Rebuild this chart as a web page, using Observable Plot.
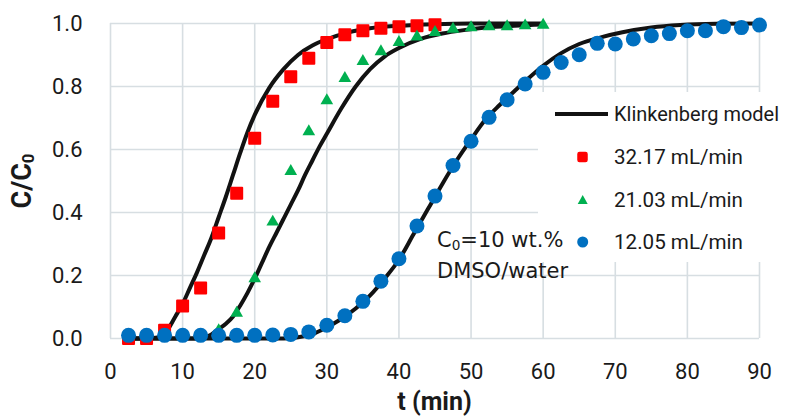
<!DOCTYPE html>
<html><head><meta charset="utf-8">
<script src="https://cdn.jsdelivr.net/npm/d3@7"></script>
<script src="https://cdn.jsdelivr.net/npm/@observablehq/plot@0.6"></script>
<style>
body{margin:0;background:#fff;}
#wrap{position:relative;width:785px;height:416px;overflow:hidden;}
.narrow{font-family:Roboto,'DejaVu Sans Condensed',sans-serif;}
#xtitle{position:absolute;left:0;width:785px;top:387px;text-align:center;font-weight:bold;font-size:25px;line-height:30px;color:#1a1a1a;padding-left:110px;box-sizing:border-box;padding-right:26px;}
#ytitle{position:absolute;left:22px;top:181px;transform:translate(-50%,-50%) rotate(-90deg);font-weight:bold;font-size:27px;color:#1a1a1a;white-space:nowrap;}
#ytitle sub{font-size:0.62em;vertical-align:-0.15em;}
#legend{position:absolute;left:538px;top:92px;width:247px;height:170px;background:#fff;}
#note{position:absolute;left:437px;top:227px;font-family:'DejaVu Sans',Verdana,sans-serif;font-size:21px;line-height:26.7px;color:#1a1a1a;white-space:nowrap;}
#note sub{font-size:0.65em;vertical-align:-0.2em;}
</style></head><body>
<div id="wrap"></div>
<script>
// ---- data ----
const xTicks = [0,10,20,30,40,50,60,70,80,90];
const yTicks = [0,0.2,0.4,0.6,0.8,1.0];

const seriesNames = ["32.17 mL/min","21.03 mL/min","12.05 mL/min"];
const seriesColors = ["#ff0000","#00b050","#0070c0"];

const redT = [2.5,5,7.5,10,12.5,15,17.5,20,22.5,25,27.5,30,32.5,35,37.5,40,42.5,45];
const redC = [0.0,0.0,0.026,0.103,0.16,0.335,0.461,0.636,0.753,0.831,0.89,0.94,0.964,0.977,0.985,0.99,0.993,0.996];

const greenT = [15,17.5,20,22.5,25,27.5,30,32.5,35,37.5,40,42.5,45,47.5,50,52.5,55,57.5,60];
const greenC = [0.025,0.081,0.19,0.37,0.531,0.657,0.755,0.826,0.88,0.911,0.94,0.958,0.972,0.982,0.987,0.99,0.99,0.993,0.995];

const blueT = [2.5,5,7.5,10,12.5,15,17.5,20,22.5,25,27.5,30,32.5,35,37.5,40,42.5,45,47.5,50,52.5,55,57.5,60,62.5,65,67.5,70,72.5,75,77.5,80,82.5,85,87.5,90];
const blueC = [0.01,0.01,0.01,0.01,0.01,0.01,0.01,0.01,0.011,0.013,0.021,0.042,0.072,0.118,0.182,0.253,0.357,0.452,0.549,0.626,0.702,0.758,0.808,0.845,0.876,0.901,0.937,0.935,0.951,0.961,0.968,0.977,0.977,0.99,0.987,0.995];

// Klinkenberg model curves
const model1T = [2,5,6.5,7.5,8,9,10,11,12,13,14,15,16,17,18,19,20,22,24,26,28,30,33,36,40,45,50,60];
const model1C = [0,0,0.003,0.015,0.03,0.07,0.11,0.16,0.21,0.265,0.32,0.385,0.45,0.52,0.59,0.655,0.71,0.795,0.855,0.9,0.93,0.95,0.972,0.985,0.993,0.998,1,1];
const model2T = [2,12,13,14,15,16,17,18,19,20,21,22,23,24,25,26,27,28,29,30,32,34,36,38,40,43,46,49,52,56,60];
const model2C = [0,0,0.003,0.013,0.03,0.047,0.07,0.105,0.145,0.19,0.24,0.29,0.335,0.38,0.425,0.47,0.52,0.565,0.61,0.65,0.73,0.8,0.855,0.895,0.922,0.951,0.968,0.979,0.987,0.993,0.997];
const model3T = [2,24,26,28,30,32,34,36,38,40,42,44,46,48,50,52,54,56,58,60,62.5,65,68,71,75,79,84,90];
const model3C = [0,0,0.004,0.014,0.036,0.062,0.095,0.137,0.19,0.25,0.33,0.41,0.49,0.565,0.632,0.695,0.742,0.785,0.827,0.866,0.906,0.935,0.956,0.972,0.987,0.995,0.999,1];

const zip = (T, C) => T.map((t, i) => ({t, c: C[i]}));
const red = zip(redT, redC), green = zip(greenT, greenC), blue = zip(blueT, blueC);
const m1 = zip(model1T, model1C), m2 = zip(model2T, model2C), m3 = zip(model3T, model3C);

const narrow = "Roboto,'DejaVu Sans Condensed',sans-serif";
const gridStyle = {stroke: "#d7dee2", strokeOpacity: 1, strokeWidth: 1.6};
const lineStyle = {x: "t", y: "c", stroke: "#121212", strokeWidth: 4, curve: "monotone-x"};

const chart = Plot.plot({
  width: 785, height: 416,
  marginLeft: 110, marginRight: 26, marginTop: 23, marginBottom: 78,
  style: {fontFamily: narrow, fontSize: "22px", color: "#1a1a1a", background: "#fff", overflow: "visible"},
  x: {domain: [0, 90]},
  y: {domain: [0, 1]},
  marks: [
    Plot.gridX(xTicks, gridStyle),
    Plot.gridY(yTicks, gridStyle),
    Plot.axisX(xTicks, {tickSize: 0, tickPadding: 25, label: null, tickFormat: d => String(d), fontSize: 22}),
    Plot.axisY(yTicks, {tickSize: 0, tickPadding: 28, label: null, tickFormat: d3.format(".1f"), fontSize: 22}),
    Plot.line(m1, lineStyle),
    Plot.line(m2, lineStyle),
    Plot.line(m3, lineStyle),
    Plot.dot(red, {x: "t", y: "c", symbol: "square", r: 6.2, fill: seriesColors[0], stroke: seriesColors[0], strokeWidth: 2, strokeLinejoin: "round"}),
    Plot.dot(green, {x: "t", y: "c", symbol: "triangle", r: 4.7, fill: seriesColors[1]}),
    Plot.dot(blue, {x: "t", y: "c", symbol: "circle", r: 7.5, fill: seriesColors[2]})
  ]
});
const wrap = document.getElementById("wrap");
wrap.appendChild(chart);

// axis titles
const xt = document.createElement("div");
xt.id = "xtitle"; xt.className = "narrow"; xt.textContent = "t (min)";
wrap.appendChild(xt);
const yt = document.createElement("div");
yt.id = "ytitle"; yt.className = "narrow"; yt.innerHTML = "C/C<sub>0</sub>";
wrap.appendChild(yt);

// legend
const lg = document.createElement("div");
lg.id = "legend";
const ns = "http://www.w3.org/2000/svg";
const svg = document.createElementNS(ns, "svg");
svg.setAttribute("width", 247); svg.setAttribute("height", 170);
svg.style.fontFamily = narrow; svg.style.fontSize = "20px";
const rowY = [22, 65, 108, 150];
const labels = ["Klinkenberg model", ...seriesNames];
const widths = [165, 129, 129, 129];
let html = `<line x1="17" x2="70" y1="${rowY[0]}" y2="${rowY[0]}" stroke="#121212" stroke-width="4"/>`;
html += `<rect x="40" y="${rowY[1]-4.5}" width="9" height="9" rx="1.5" fill="${seriesColors[0]}" stroke="${seriesColors[0]}" stroke-width="1.5" stroke-linejoin="round"/>`;
html += `<path d="M44.7,${rowY[2]-5} L49.7,${rowY[2]+4} L39.7,${rowY[2]+4} Z" fill="${seriesColors[1]}"/>`;
html += `<circle cx="44.7" cy="${rowY[3]}" r="5.5" fill="${seriesColors[2]}"/>`;
labels.forEach((l, i) => {
  html += `<text x="76" y="${rowY[i]}" dy="0.36em" fill="#1a1a1a" textLength="${widths[i]}" lengthAdjust="spacingAndGlyphs">${l}</text>`;
});
svg.innerHTML = html;
lg.appendChild(svg);
wrap.appendChild(lg);

// annotation
const nt = document.createElement("div");
nt.id = "note";
nt.innerHTML = "C<sub>0</sub>=10 wt.%<br>DMSO/water";
wrap.appendChild(nt);
</script>
</body></html>
